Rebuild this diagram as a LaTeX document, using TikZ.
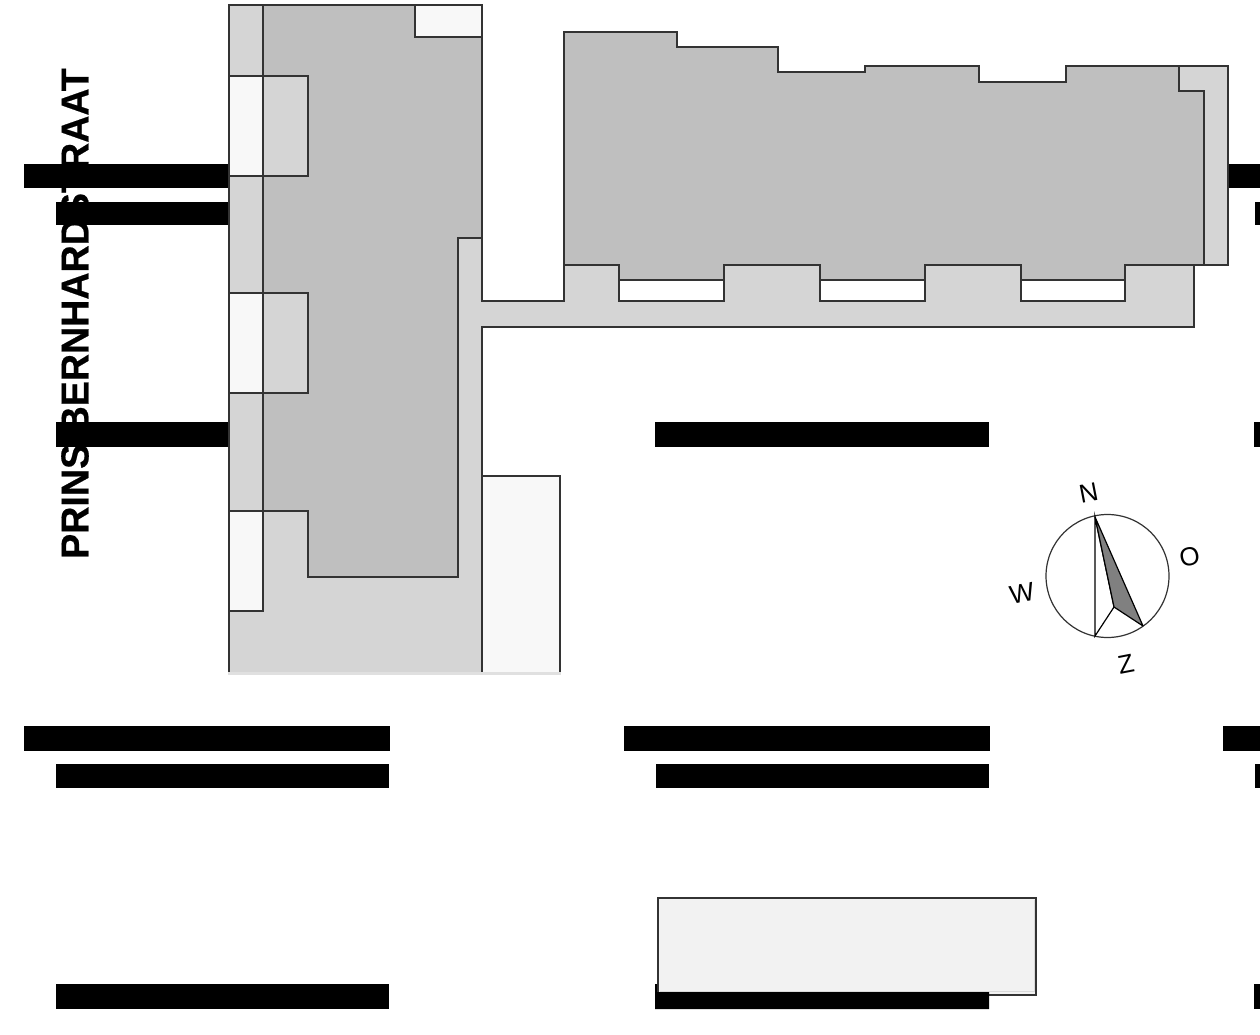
\documentclass[tikz,border=0pt]{standalone}
\usepackage{fontspec}
\setmainfont{Liberation Sans}
\newfontfamily\streetfont[FakeBold=0.5]{Liberation Sans Bold}
\definecolor{lightg}{HTML}{D5D5D5}
\definecolor{darkg}{HTML}{BFBFBF}
\definecolor{paleg}{HTML}{F8F8F8}
\definecolor{boxg}{HTML}{F2F2F2}
\definecolor{needle}{HTML}{808080}
\tikzset{
  plan/.style={draw=black!80,line width=1.15pt,line join=miter},
  lightpart/.style={plan,fill=lightg},
  darkpart/.style={plan,fill=darkg},
  palepart/.style={plan,fill=paleg},
  bar/.style={fill=black,draw=none},
  wind/.style={font=\fontsize{26}{26}\selectfont,text=black,inner sep=0pt,rotate=11}
}
\begin{document}
\begin{tikzpicture}[x=1pt,y=-1pt]
\useasboundingbox (0,0) rectangle (1260,1035);
\fill[white] (0,0) rectangle (1260,1035);
% bars
\foreach \a/\b/\c/\d in {24/164/229/188,56/202/229/225,1227/164/1260/188,1255/202/1260/225,
  56/422/229/447,655/422/989/447,1254/422/1260/447,
  24/726/390/751,56/764/389/788,624/726/990/751,656/764/989/788,1223/726/1260/751,1255/764/1260/788,
  56/984/389/1009,1254/984/1260/1009}
  \fill[bar] (\a,\b) rectangle (\c,\d);
% light terrace right building
\draw[lightpart] (1179,66) -- (1228,66) -- (1228,265) -- (1204,265) -- (1179,265) -- cycle;
% left light body with gallery
\draw[lightpart] (229,5) -- (482,5) -- (482,301) -- (564,301) -- (564,265) -- (619,265) -- (619,301) -- (724,301) -- (724,265) -- (820,265) -- (820,301) -- (925,301) -- (925,265) -- (1021,265) -- (1021,301) -- (1125,301) -- (1125,265) -- (1194,265) -- (1194,327) -- (482,327) -- (482,673) -- (229,673) -- cycle;
% dark left building
\draw[darkpart] (263,5) -- (415,5) -- (415,37) -- (482,37) -- (482,238) -- (458,238) -- (458,577) -- (308,577) -- (308,511) -- (263,511) -- cycle;
\draw[plan,fill=paleg] (415,5) rectangle (482,37);
% dark right building
\draw[darkpart] (564,32) -- (677,32) -- (677,47) -- (778,47) -- (778,72) -- (865,72) -- (865,66) -- (979,66) -- (979,82) -- (1066,82) -- (1066,66) -- (1179,66) -- (1179,91) -- (1204,91) -- (1204,265) -- (1125,265) -- (1125,280) -- (1021,280) -- (1021,265) -- (925,265) -- (925,280) -- (820,280) -- (820,265) -- (724,265) -- (724,280) -- (619,280) -- (619,265) -- (564,265) -- cycle;
% bays
\foreach \t/\b in {76/176,293/393}{
  \draw[palepart] (229,\t) rectangle (263,\b);
  \draw[lightpart] (263,\t) rectangle (308,\b);
}
\draw[palepart] (229,511) rectangle (263,611);
\draw[palepart] (482,476) -- (560,476) -- (560,673) -- (482,673) -- cycle;
% pale strip along the foot of the left building
\fill[black!12] (228,672) rectangle (561,675);
% bottom box and bar
\draw[plan,line width=1.6pt,fill=boxg] (658,898) rectangle (1036,995);
\draw[black!15,line width=1pt] (660,991) -- (1034,991) -- (1034,900);
\fill[bar] (655,984) -- (657,984) -- (657,992) -- (989,992) -- (989,1009) -- (655,1009) -- cycle;
% street name
\node[rotate=90,inner sep=0pt] (street) at (75,313.5) {\scalebox{0.965}[1]{\streetfont\fontsize{39}{39}\selectfont PRINS BERNHARDSTRAAT}};
% compass
\draw[draw=black!80,line width=1.2pt,fill=white] (1107.5,576) circle (61.5);
\draw[line width=1.2pt,fill=white] (1095,517) -- (1114,607) -- (1095,636) -- cycle;
\draw[line width=1.2pt,fill=needle,line join=round] (1095,517) -- (1143,626) -- (1114,607) -- cycle;
\node[wind] (north) at (1088.5,493) {N};
\node[wind] (east) at (1189.5,557) {O};
\node[wind] (west) at (1022,593) {W};
\node[wind] (south) at (1126,664.5) {Z};
\end{tikzpicture}
\end{document}
